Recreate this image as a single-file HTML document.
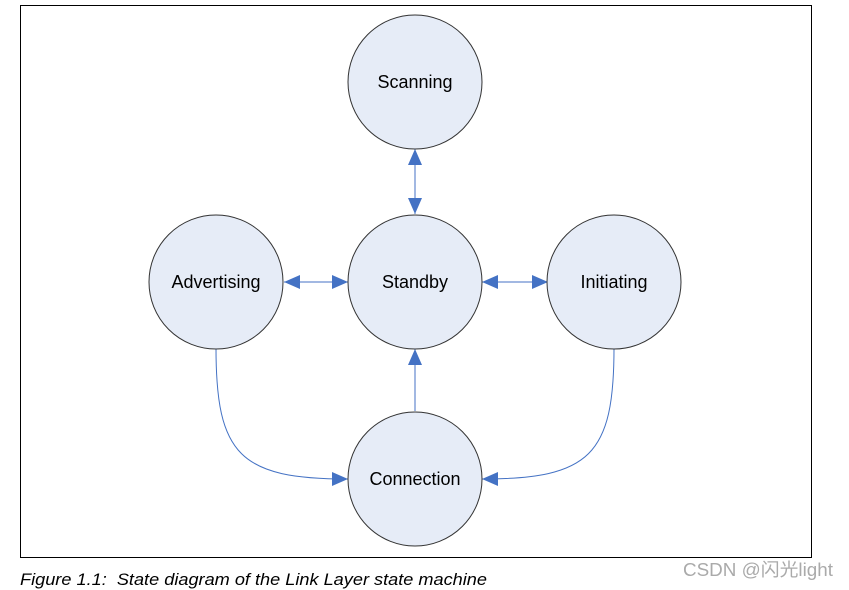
<!DOCTYPE html>
<html><head><meta charset="utf-8"><style>
body{margin:0;background:#fff;width:849px;height:590px;overflow:hidden;font-family:"Liberation Sans",Arial,sans-serif}
</style></head><body>
<svg width="849" height="590" xmlns="http://www.w3.org/2000/svg" style="position:absolute;left:0;top:0">
<defs>
<marker id="a" markerWidth="16" markerHeight="14" refX="16" refY="7" orient="auto" markerUnits="userSpaceOnUse">
<path d="M0,0 L16,7 L0,14 Z" fill="#4472C4"/></marker>
</defs>
<rect x="20.5" y="5.5" width="791" height="552" fill="#fff" stroke="#000" stroke-width="1"/>
<g stroke="#4472C4" stroke-width="1" fill="none">
<line x1="415" y1="165" x2="415" y2="214" marker-end="url(#a)"/>
<line x1="415" y1="200" x2="415" y2="149" marker-end="url(#a)"/>
<line x1="300" y1="282" x2="348" y2="282" marker-end="url(#a)"/>
<line x1="332" y1="282" x2="284" y2="282" marker-end="url(#a)"/>
<line x1="498" y1="282" x2="548" y2="282" marker-end="url(#a)"/>
<line x1="532" y1="282" x2="482" y2="282" marker-end="url(#a)"/>
<line x1="415" y1="411" x2="415" y2="349" marker-end="url(#a)"/>
<path d="M216 348 C216 455 240 479 348 479" marker-end="url(#a)"/>
<path d="M614 348 C614 455 590 479 482 479" marker-end="url(#a)"/>
</g>
<g fill="#E6ECF7" stroke="#333" stroke-width="1">
<circle cx="415" cy="82" r="67"/>
<circle cx="415" cy="282" r="67"/>
<circle cx="216" cy="282" r="67"/>
<circle cx="614" cy="282" r="67"/>
<circle cx="415" cy="479" r="67"/>
</g>
<g font-size="18" text-anchor="middle" fill="#000">
<text x="415" y="88">Scanning</text>
<text x="415" y="288">Standby</text>
<text x="216" y="288">Advertising</text>
<text x="614" y="288">Initiating</text>
<text x="415" y="485">Connection</text>
</g>
<text x="20" y="585" font-size="17" font-style="italic" fill="#000" textLength="467" lengthAdjust="spacingAndGlyphs" xml:space="preserve">Figure 1.1:  State diagram of the Link Layer state machine</text>
<text x="683" y="576" font-size="18" fill="#aaa" textLength="150" lengthAdjust="spacingAndGlyphs" font-family="Liberation Sans,Noto Sans CJK SC,sans-serif">CSDN @闪光light</text>
</svg>
</body></html>
